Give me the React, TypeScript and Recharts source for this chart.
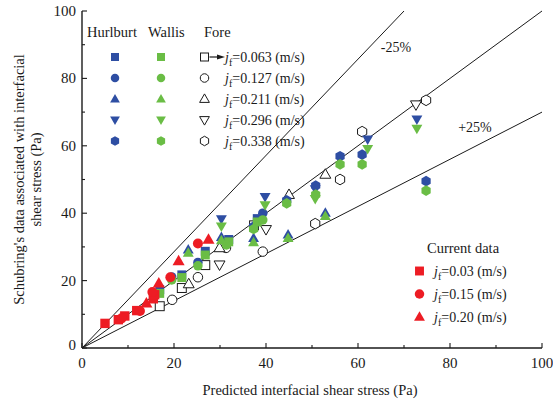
import React from 'react';
import { ScatterChart, Scatter, XAxis, YAxis, ReferenceLine, Customized } from 'recharts';

const SERIF = '"Liberation Serif", "Times New Roman", Times, serif';
const BLUE = '#2E4EA3';
const GREEN = '#6ABD45';
const RED = '#ED1C24';
const INK = '#1a1a1a';

// Axis ticks (every 10, labelled every 20)
const axisTicks = [0, 10, 20, 30, 40, 50, 60, 70, 80, 90, 100];

// Deviation bands drawn through the origin
const upperSlope = 1 / 0.7;
const lowerSlope = 0.7;

// jf = 0.063 m/s (squares)
const sqX = [16.9, 21.7, 26.8, 31.9, 38.1];
const sqHurlburt = [17.3, 21.7, 28.7, 32.2, 38.4];
const sqWallis = [16.2, 20.9, 27.6, 31.5, 37.4];
const sqForeX = [16.9, 21.7, 26.8, 37.4];
const sqFore = [12.4, 17.8, 24.6, 36.4];

// jf = 0.127 m/s (circles)
const ciX = [19.5, 25.2, 31.4, 39.3];
const ciHurlburt = [21.1, 25.4, 31.7, 40.0];
const ciWallis = [20.2, 24.4, 30.6, 38.0];
const ciForeX = [19.6, 25.2, 31.3, 39.3];
const ciFore = [14.3, 21.0, 29.7, 28.6];

// jf = 0.211 m/s (triangles)
const trX = [23.1, 30.3, 37.3, 44.8, 52.9];
const trHurlburt = [29.2, 32.9, 32.6, 33.6, 40.1];
const trWallis = [28.2, 31.9, 31.3, 32.6, 39.1];
const trForeX = [23.2, 29.9, 45.0, 52.9];
const trFore = [19.0, 29.7, 45.5, 51.5];

// jf = 0.296 m/s (inverted triangles)
const dtX = [30.3, 39.8, 50.7, 62.1, 72.8];
const dtHurlburt = [38.3, 44.9, 47.2, 61.9, 67.9];
const dtWallis = [36.1, 42.4, 44.3, 59.1, 65.1];
const dtForeX = [29.9, 40.0, 72.6];
const dtFore = [24.7, 35.2, 72.2];

// jf = 0.338 m/s (hexagons)
const hxX = [37.3, 44.5, 50.8, 56.1, 60.9, 74.8];
const hxHurlburt = [36.0, 43.8, 48.2, 56.9, 57.4, 49.5];
const hxWallis = [35.3, 42.9, 45.5, 54.5, 54.5, 46.7];
const hxForeX = [50.7, 56.1, 60.9, 74.8];
const hxFore = [36.9, 50.0, 64.2, 73.5];

// Current data
const cur003X = [5.0, 7.9, 9.3, 11.9, 15.5, 15.8];
const cur003Y = [7.3, 8.4, 9.5, 11.1, 14.6, 15.8];
const cur015X = [8.6, 12.6, 15.3, 19.2, 25.2];
const cur015Y = [8.8, 11.0, 16.6, 21.0, 31.0];
const cur020X = [14.0, 16.7, 21.0, 27.5];
const cur020Y = [13.3, 19.2, 25.8, 32.2];

// Legend text
const foreLegendLabels = ['0.063', '0.127', '0.211', '0.296', '0.338'];
const currentLegendLabels = ['0.03', '0.15', '0.20'];

type Kind = 'square' | 'circle' | 'up' | 'down' | 'hex';

const zip = (xs: number[], ys: number[]) => xs.map((x, i) => ({ x, y: ys[i] }));

function glyph(kind: Kind, cx: number, cy: number, fill: string, stroke: string, s: number, key?: string) {
  const sw = stroke === 'none' ? 0 : 1;
  switch (kind) {
    case 'square':
      return <rect key={key} x={cx - s * 0.47} y={cy - s * 0.47} width={s * 0.94} height={s * 0.94} fill={fill} stroke={stroke} strokeWidth={sw} />;
    case 'circle':
      return <circle key={key} cx={cx} cy={cy} r={s * 0.5} fill={fill} stroke={stroke} strokeWidth={sw} />;
    case 'up': {
      const w = s * 1.15, h = s;
      return <polygon key={key} points={`${cx},${cy - h * 0.6} ${cx - w / 2},${cy + h * 0.4} ${cx + w / 2},${cy + h * 0.4}`} fill={fill} stroke={stroke} strokeWidth={sw} />;
    }
    case 'down': {
      const w = s * 1.15, h = s;
      return <polygon key={key} points={`${cx},${cy + h * 0.6} ${cx - w / 2},${cy - h * 0.4} ${cx + w / 2},${cy - h * 0.4}`} fill={fill} stroke={stroke} strokeWidth={sw} />;
    }
    case 'hex': {
      const r = s * 0.56;
      const pts = [0, 1, 2, 3, 4, 5]
        .map((k) => {
          const a = ((-90 + 60 * k) * Math.PI) / 180;
          return `${cx + r * Math.cos(a)},${cy + r * Math.sin(a)}`;
        })
        .join(' ');
      return <polygon key={key} points={pts} fill={fill} stroke={stroke} strokeWidth={sw} />;
    }
  }
}

const marker = (kind: Kind, fill: string, stroke: string, s: number) => (props: any) =>
  glyph(kind, props.cx, props.cy, fill, stroke, s) as any;

const BottomTick = (p: any) => {
  const { x, y, payload } = p;
  const v = payload.value;
  const major = v % 20 === 0;
  return (
    <g>
      <line x1={x} y1={y} x2={x} y2={y - (major ? 5 : 3)} stroke={INK} strokeWidth={1.1} />
      {major && (
        <text x={x} y={y + 20} textAnchor="middle" fontFamily={SERIF} fontSize={15} fill={INK}>
          {v}
        </text>
      )}
    </g>
  );
};

const TopTick = (p: any) => {
  const { x, y, payload } = p;
  const major = payload.value % 20 === 0;
  return <line x1={x} y1={y} x2={x} y2={y + (major ? 5 : 3)} stroke={INK} strokeWidth={1.1} />;
};

const LeftTick = (p: any) => {
  const { x, y, payload } = p;
  const v = payload.value;
  const major = v % 20 === 0;
  return (
    <g>
      <line x1={x} y1={y} x2={x + (major ? 5 : 3)} y2={y} stroke={INK} strokeWidth={1.1} />
      {major && (
        <text x={x - 6} y={y + 5 - (v === 0 ? 3 : 0)} textAnchor="end" fontFamily={SERIF} fontSize={15} fill={INK}>
          {v}
        </text>
      )}
    </g>
  );
};

const RightTick = (p: any) => {
  const { x, y, payload } = p;
  const major = payload.value % 20 === 0;
  return <line x1={x} y1={y} x2={x - (major ? 5 : 3)} y2={y} stroke={INK} strokeWidth={1.1} />;
};

const JfLabel = ({ x, y, value }: { x: number; y: number; value: string }) => (
  <text x={x} y={y} fontFamily={SERIF} fontSize={14} fill={INK}>
    <tspan fontStyle="italic">j</tspan>
    <tspan fontSize={10} dy={4}>f</tspan>
    <tspan dy={-4}>={value} (m/s)</tspan>
  </text>
);

const kinds: Kind[] = ['square', 'circle', 'up', 'down', 'hex'];
const currentKinds: Kind[] = ['square', 'circle', 'up'];

const Annotations = () => {
  const rowY0 = 57;
  const rowStep = 21;
  return (
    <g>
      {/* axis titles */}
      <text x={310} y={395} textAnchor="middle" fontFamily={SERIF} fontSize={14.5} fill={INK}>
        Predicted interfacial shear stress (Pa)
      </text>
      <text transform="translate(19,179.5) rotate(-90)" textAnchor="middle" dominantBaseline="central" fontFamily={SERIF} fontSize={14.5} fill={INK}>
        Schubring's data associated with interfacial
      </text>
      <text transform="translate(36,179.5) rotate(-90)" textAnchor="middle" dominantBaseline="central" fontFamily={SERIF} fontSize={14.5} fill={INK}>
        shear stress (Pa)
      </text>

      {/* band labels */}
      <text x={396} y={52} textAnchor="middle" fontFamily={SERIF} fontSize={14} fill={INK}>-25%</text>
      <text x={475} y={132} textAnchor="middle" fontFamily={SERIF} fontSize={14} fill={INK}>+25%</text>

      {/* correlation legend */}
      <text x={87} y={37} fontFamily={SERIF} fontSize={14.5} fill={INK}>Hurlburt</text>
      <text x={148} y={37} fontFamily={SERIF} fontSize={14.5} fill={INK}>Wallis</text>
      <text x={204} y={37} fontFamily={SERIF} fontSize={14.5} fill={INK}>Fore</text>
      {kinds.map((k, i) => {
        const cy = rowY0 + i * rowStep;
        return (
          <g key={k}>
            {glyph(k, 115, cy, BLUE, 'none', 8.5)}
            {glyph(k, 161, cy, GREEN, 'none', 8.5)}
            {glyph(k, 204.5, cy, '#fff', INK, 8.5)}
            <JfLabel x={225} y={cy + 5} value={foreLegendLabels[i]} />
          </g>
        );
      })}
      {/* pointer from the first Fore symbol to its label */}
      <line x1={209.5} y1={rowY0} x2={219} y2={rowY0} stroke={INK} strokeWidth={1.2} />
      <polygon points={`${225},${rowY0} ${217},${rowY0 - 2.5} ${217},${rowY0 + 2.5}`} fill={INK} />

      {/* current data legend */}
      <text x={427} y={253} fontFamily={SERIF} fontSize={14.5} fill={INK}>Current data</text>
      {currentKinds.map((k, i) => {
        const cy = 271 + i * 23;
        return (
          <g key={k}>
            {glyph(k, 419.5, cy, RED, 'none', 9.5)}
            <JfLabel x={434} y={cy + 5} value={currentLegendLabels[i]} />
          </g>
        );
      })}
    </g>
  );
};

export default function App() {
  const S = 9.5;
  return (
    <div style={{ position: 'absolute', left: 0, top: 0, width: 553, height: 402, background: '#fff' }}>
      <ScatterChart width={553} height={402} margin={{ top: 11, right: 11, bottom: 0, left: 0 }}>
        <XAxis
          xAxisId={0}
          dataKey="x"
          type="number"
          domain={[0, 100]}
          ticks={axisTicks}
          interval={0}
          height={54}
          tickSize={0}
          tickMargin={0}
          tickLine={false}
          tick={BottomTick}
          axisLine={{ stroke: INK, strokeWidth: 1.4 }}
        />
        <XAxis
          xAxisId="top"
          orientation="top"
          dataKey="x"
          type="number"
          domain={[0, 100]}
          ticks={axisTicks}
          interval={0}
          height={0}
          tickSize={0}
          tickMargin={0}
          tickLine={false}
          tick={TopTick}
          axisLine={{ stroke: INK, strokeWidth: 1.4 }}
        />
        <YAxis
          yAxisId={0}
          dataKey="y"
          type="number"
          domain={[0, 100]}
          ticks={axisTicks}
          interval={0}
          width={82}
          tickSize={0}
          tickMargin={0}
          tickLine={false}
          tick={LeftTick}
          axisLine={{ stroke: INK, strokeWidth: 1.4 }}
        />
        <YAxis
          yAxisId="right"
          orientation="right"
          dataKey="y"
          type="number"
          domain={[0, 100]}
          ticks={axisTicks}
          interval={0}
          width={0}
          tickSize={0}
          tickMargin={0}
          tickLine={false}
          tick={RightTick}
          axisLine={{ stroke: INK, strokeWidth: 1.4 }}
        />

        <ReferenceLine segment={[{ x: 0, y: 0 }, { x: 100 / upperSlope, y: 100 }]} stroke={INK} strokeWidth={1} />
        <ReferenceLine segment={[{ x: 0, y: 0 }, { x: 100, y: 100 }]} stroke={INK} strokeWidth={1} />
        <ReferenceLine segment={[{ x: 0, y: 0 }, { x: 100, y: 100 * lowerSlope }]} stroke={INK} strokeWidth={1} />

        {/* Fore */}
        <Scatter data={zip(sqForeX, sqFore)} shape={marker('square', '#fff', INK, S)} isAnimationActive={false} />
        <Scatter data={zip(ciForeX, ciFore)} shape={marker('circle', '#fff', INK, S)} isAnimationActive={false} />
        <Scatter data={zip(trForeX, trFore)} shape={marker('up', '#fff', INK, S)} isAnimationActive={false} />
        <Scatter data={zip(dtForeX, dtFore)} shape={marker('down', '#fff', INK, S)} isAnimationActive={false} />
        <Scatter data={zip(hxForeX, hxFore)} shape={marker('hex', '#fff', INK, S)} isAnimationActive={false} />

        {/* Hurlburt */}
        <Scatter data={zip(sqX, sqHurlburt)} shape={marker('square', BLUE, 'none', S)} isAnimationActive={false} />
        <Scatter data={zip(ciX, ciHurlburt)} shape={marker('circle', BLUE, 'none', S)} isAnimationActive={false} />
        <Scatter data={zip(trX, trHurlburt)} shape={marker('up', BLUE, 'none', S)} isAnimationActive={false} />
        <Scatter data={zip(dtX, dtHurlburt)} shape={marker('down', BLUE, 'none', S)} isAnimationActive={false} />
        <Scatter data={zip(hxX, hxHurlburt)} shape={marker('hex', BLUE, 'none', S)} isAnimationActive={false} />

        {/* Wallis */}
        <Scatter data={zip(sqX, sqWallis)} shape={marker('square', GREEN, 'none', S)} isAnimationActive={false} />
        <Scatter data={zip(ciX, ciWallis)} shape={marker('circle', GREEN, 'none', S)} isAnimationActive={false} />
        <Scatter data={zip(trX, trWallis)} shape={marker('up', GREEN, 'none', S)} isAnimationActive={false} />
        <Scatter data={zip(dtX, dtWallis)} shape={marker('down', GREEN, 'none', S)} isAnimationActive={false} />
        <Scatter data={zip(hxX, hxWallis)} shape={marker('hex', GREEN, 'none', S)} isAnimationActive={false} />

        {/* Current data */}
        <Scatter data={zip(cur003X, cur003Y)} shape={marker('square', RED, 'none', 10)} isAnimationActive={false} />
        <Scatter data={zip(cur015X, cur015Y)} shape={marker('circle', RED, 'none', 10)} isAnimationActive={false} />
        <Scatter data={zip(cur020X, cur020Y)} shape={marker('up', RED, 'none', 10.5)} isAnimationActive={false} />

        <Customized component={Annotations} />
      </ScatterChart>
    </div>
  );
}
